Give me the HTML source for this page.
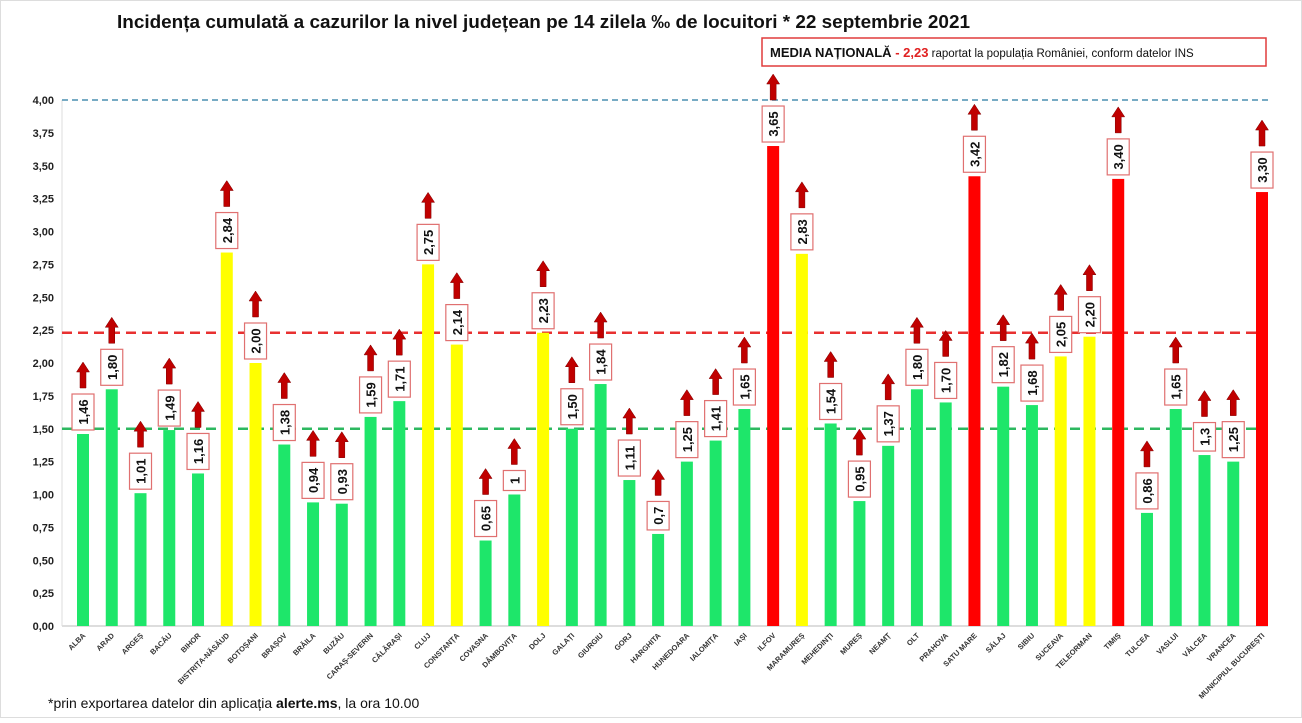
<!DOCTYPE html>
<html><head><meta charset="utf-8"><style>
body{margin:0;background:#fff;width:1302px;height:718px;overflow:hidden;font-family:"Liberation Sans",sans-serif}
</style></head><body>
<svg id="chart" width="1302" height="718" xmlns="http://www.w3.org/2000/svg" font-family="Liberation Sans, sans-serif">
<rect x="0.5" y="0.5" width="1301" height="717" fill="#fff" stroke="#ddd"/>
<text x="117" y="28" font-size="18" font-weight="bold" fill="#111" textLength="853" lengthAdjust="spacingAndGlyphs">Incidența cumulată a cazurilor la nivel județean pe 14 zilela ‰ de locuitori * 22 septembrie 2021</text>
<g>
<rect x="762" y="38" width="504" height="28" fill="#fff" stroke="#e03c3c" stroke-width="1.5"/>
<text x="770" y="57" font-size="13" fill="#111"><tspan font-weight="bold">MEDIA NAȚIONALĂ</tspan><tspan font-weight="bold" fill="#e02020"> - 2,23</tspan><tspan font-size="11.5"> raportat la populația României, conform datelor INS</tspan></text>
</g>
<text x="48" y="708" font-size="14" fill="#111">*prin exportarea datelor din aplicația <tspan font-weight="bold">alerte.ms</tspan>, la ora 10.00</text>
<g id="plot"></g>
</svg>
<script>
const categories=["ALBA","ARAD","ARGEȘ","BACĂU","BIHOR","BISTRIȚA-NĂSĂUD","BOTOȘANI","BRAȘOV","BRĂILA","BUZĂU","CARAȘ-SEVERIN","CĂLĂRAȘI","CLUJ","CONSTANȚA","COVASNA","DÂMBOVIȚA","DOLJ","GALAȚI","GIURGIU","GORJ","HARGHITA","HUNEDOARA","IALOMIȚA","IAȘI","ILFOV","MARAMUREȘ","MEHEDINȚI","MUREȘ","NEAMȚ","OLT","PRAHOVA","SATU MARE","SĂLAJ","SIBIU","SUCEAVA","TELEORMAN","TIMIȘ","TULCEA","VASLUI","VÂLCEA","VRANCEA","MUNICIPIUL BUCUREȘTI"];
const values=[1.46,1.80,1.01,1.49,1.16,2.84,2.00,1.38,0.94,0.93,1.59,1.71,2.75,2.14,0.65,1,2.23,1.50,1.84,1.11,0.7,1.25,1.41,1.65,3.65,2.83,1.54,0.95,1.37,1.80,1.70,3.42,1.82,1.68,2.05,2.20,3.40,0.86,1.65,1.3,1.25,3.30];
const valueLabels=["1,46","1,80","1,01","1,49","1,16","2,84","2,00","1,38","0,94","0,93","1,59","1,71","2,75","2,14","0,65","1","2,23","1,50","1,84","1,11","0,7","1,25","1,41","1,65","3,65","2,83","1,54","0,95","1,37","1,80","1,70","3,42","1,82","1,68","2,05","2,20","3,40","0,86","1,65","1,3","1,25","3,30"];
const yTicks=[0,0.25,0.5,0.75,1,1.25,1.5,1.75,2,2.25,2.5,2.75,3,3.25,3.5,3.75,4];
const yTickLabels=["0,00","0,25","0,50","0,75","1,00","1,25","1,50","1,75","2,00","2,25","2,50","2,75","3,00","3,25","3,50","3,75","4,00"];
const refValues=[4.0,2.23,1.5];
const refNames=["max-line","national-average-line","threshold-line"];
const refColors=["#4a8fb0","#e83030","#2db860"];

const NS="http://www.w3.org/2000/svg";
const g=document.getElementById('plot');
const y0=626,yTop=100,x0=62,x1=1268;
const y=v=>y0-(v/4)*(y0-yTop);
const x=i=>83+i*(1262-83)/(categories.length-1);
function mk(tag,attrs,parent){const e=document.createElementNS(NS,tag);for(const k in attrs)e.setAttribute(k,attrs[k]);(parent||g).appendChild(e);return e;}

yTicks.forEach((t,i)=>{
  const tx=mk('text',{x:54,y:y(t)+4,'text-anchor':'end','font-size':11,'font-weight':'bold',fill:'#222'});
  
  
  tx.textContent=yTickLabels[i];
});
const ax=mk('line',{x1:x0,y1:y0,x2:x1,y2:y0,stroke:'#bbb','stroke-width':1});


const yax=mk('line',{x1:x0,y1:yTop,x2:x0,y2:y0,stroke:'#ddd','stroke-width':1});



refValues.forEach((r,i)=>{
  const l=mk('line',{x1:x0,y1:y(r),x2:x1,y2:y(r),stroke:refColors[i],'stroke-width':i==0?1.5:2.5,'stroke-dasharray':i==0?'6 4':'10 6'});
  
  
});

values.forEach((v,i)=>{
  const cx=x(i),top=y(v);
  const col=v>=3?'#ff0000':(v>=2?'#ffff00':'#1ee66a');
  const b=mk('rect',{x:cx-6,y:top,width:12,height:y0-top,fill:col});
  
  
  const lbl=valueLabels[i];
  const bh=Math.max(20,lbl.length*7.5+6);
  const boxBottom=top-4;
  const box=mk('rect',{x:cx-11,y:boxBottom-bh,width:22,height:bh,fill:'#fff',stroke:'#e07070','stroke-width':1.2});
  
  
  const t=mk('text',{x:0,y:0,'font-size':13,'font-weight':'bold',fill:'#111','text-anchor':'middle',transform:`translate(${cx+5},${boxBottom-bh/2}) rotate(-90)`});
  
  
  t.textContent=lbl;
  const ab=boxBottom-bh-6;
  const ar=mk('path',{d:`M${cx-3} ${ab} L${cx-3} ${ab-16} L${cx-6.5} ${ab-16} L${cx} ${ab-26} L${cx+6.5} ${ab-16} L${cx+3} ${ab-16} L${cx+3} ${ab} Z`,fill:'#c00000',stroke:'#800000','stroke-width':0.5});
  
  
  const c=mk('text',{x:0,y:0,'font-size':7.5,'font-weight':'bold',fill:'#333','text-anchor':'end',transform:`translate(${cx+3},${y0+10}) rotate(-45)`});
  
  
  c.textContent=categories[i];
});
</script>
</body></html>
